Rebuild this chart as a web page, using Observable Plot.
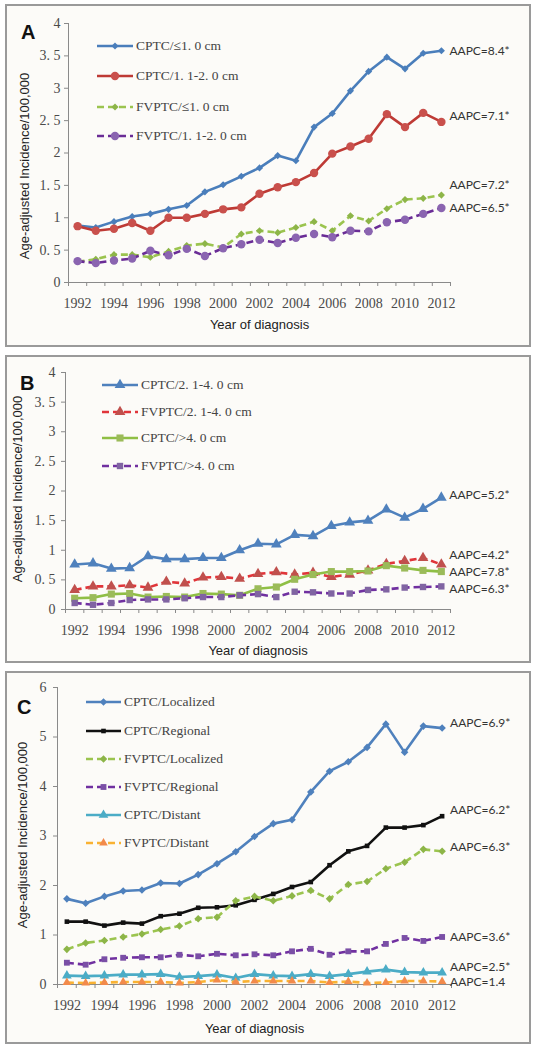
<!DOCTYPE html>
<html><head><meta charset="utf-8">
<script src="https://cdn.jsdelivr.net/npm/d3@7"></script>
<script src="https://cdn.jsdelivr.net/npm/@observablehq/plot@0.6"></script>
<style>
body{margin:0;background:#fff;}
#root{position:relative;width:537px;height:1050px;overflow:hidden;}
.frame{position:absolute;left:5px;width:526px;box-sizing:border-box;border:2px solid #9a9a9a;background:#fcfbf8;}
.chart{position:absolute;left:0;}
.chart [aria-label$="tick label"] text{font-family:"Liberation Serif",serif !important;font-size:14px !important;}
.letter{position:absolute;font:bold 20px/20px "Liberation Sans",Arial,sans-serif;color:#111;}
.ytitle{position:absolute;font:13px/16px "Liberation Sans",Arial,sans-serif;color:#222;white-space:nowrap;transform:translate(-50%,-50%) rotate(-90deg);}
.lrow{position:absolute;height:20px;display:flex;align-items:center;font:13.5px "Liberation Serif",serif;color:#444;white-space:nowrap;}
.lrow svg{display:block;margin-right:3px;}
</style></head>
<body><div id="root"></div>
<script>
// ---------- data ----------
const YEARS = [1992,1993,1994,1995,1996,1997,1998,1999,2000,2001,2002,2003,2004,2005,2006,2007,2008,2009,2010,2011,2012];
const X_LABEL_YEARS = [1992,1994,1996,1998,2000,2002,2004,2006,2008,2010,2012];
const X_TICK_BOUNDS = [1991.5,1992.5,1993.5,1994.5,1995.5,1996.5,1997.5,1998.5,1999.5,2000.5,2001.5,2002.5,2003.5,2004.5,2005.5,2006.5,2007.5,2008.5,2009.5,2010.5,2011.5,2012.5];

const AB_Y_TICKS = [0,0.5,1,1.5,2,2.5,3,3.5,4];
const AB_Y_LABELS = ["0","0. 5","1","1. 5","2","2. 5","3","3. 5","4"];
const C_Y_TICKS = [0,1,2,3,4,5,6];
const C_Y_LABELS = ["0","1","2","3","4","5","6"];

const Y_TITLE = "Age-adjusted Incidence/100,000";
const X_TITLE = "Year of diagnosis";

// Panel A
const A_NAMES = ["CPTC/≤1. 0 cm","CPTC/1. 1-2. 0 cm","FVPTC/≤1. 0 cm","FVPTC/1. 1-2. 0 cm"];
const A_CPTC_LE1    = [0.88,0.85,0.94,1.02,1.06,1.13,1.19,1.40,1.51,1.64,1.77,1.96,1.88,2.40,2.61,2.96,3.26,3.48,3.30,3.54,3.58];
const A_CPTC_11_20  = [0.87,0.80,0.83,0.92,0.80,1.00,1.00,1.06,1.13,1.16,1.37,1.47,1.55,1.69,1.99,2.10,2.22,2.60,2.40,2.62,2.48];
const A_FVPTC_LE1   = [0.32,0.36,0.43,0.43,0.39,0.48,0.57,0.60,0.54,0.75,0.80,0.77,0.85,0.94,0.80,1.03,0.95,1.14,1.28,1.30,1.35];
const A_FVPTC_11_20 = [0.33,0.30,0.34,0.37,0.49,0.42,0.52,0.41,0.53,0.59,0.66,0.61,0.69,0.75,0.70,0.80,0.79,0.93,0.97,1.06,1.15];
const A_AAPC = ["AAPC=8.4*","AAPC=7.1*","AAPC=7.2*","AAPC=6.5*"];

// Panel B
const B_NAMES = ["CPTC/2. 1-4. 0 cm","FVPTC/2. 1-4. 0 cm","CPTC/>4. 0 cm","FVPTC/>4. 0 cm"];
const B_CPTC_21_40  = [0.76,0.78,0.69,0.70,0.90,0.85,0.85,0.87,0.87,1.00,1.11,1.10,1.26,1.24,1.41,1.47,1.50,1.69,1.55,1.70,1.89];
const B_FVPTC_21_40 = [0.33,0.39,0.39,0.41,0.37,0.47,0.44,0.54,0.55,0.52,0.60,0.63,0.59,0.62,0.55,0.59,0.66,0.77,0.82,0.87,0.76];
const B_CPTC_GT40   = [0.19,0.20,0.26,0.27,0.21,0.22,0.21,0.27,0.26,0.24,0.35,0.38,0.51,0.59,0.64,0.64,0.65,0.74,0.70,0.66,0.64];
const B_FVPTC_GT40  = [0.11,0.08,0.11,0.16,0.17,0.17,0.19,0.21,0.21,0.24,0.26,0.21,0.30,0.29,0.27,0.27,0.33,0.34,0.37,0.38,0.39];
const B_AAPC = ["AAPC=5.2*","AAPC=4.2*","AAPC=7.8*","AAPC=6.3*"];

// Panel C
const C_NAMES = ["CPTC/Localized","CPTC/Regional","FVPTC/Localized","FVPTC/Regional","CPTC/Distant","FVPTC/Distant"];
const C_CPTC_LOC   = [1.73,1.64,1.78,1.89,1.91,2.05,2.04,2.22,2.44,2.68,2.99,3.25,3.33,3.89,4.31,4.50,4.79,5.26,4.69,5.22,5.18];
const C_CPTC_REG   = [1.27,1.27,1.19,1.25,1.23,1.38,1.43,1.55,1.56,1.60,1.71,1.83,1.97,2.07,2.41,2.69,2.80,3.17,3.17,3.22,3.40];
const C_FVPTC_LOC  = [0.71,0.84,0.89,0.96,1.02,1.11,1.18,1.33,1.36,1.69,1.78,1.69,1.79,1.90,1.73,2.02,2.08,2.34,2.47,2.73,2.69];
const C_FVPTC_REG  = [0.44,0.40,0.51,0.54,0.55,0.55,0.60,0.57,0.62,0.59,0.61,0.59,0.67,0.72,0.60,0.67,0.67,0.82,0.94,0.88,0.96];
const C_CPTC_DIST  = [0.18,0.17,0.18,0.20,0.20,0.21,0.15,0.17,0.20,0.13,0.21,0.18,0.17,0.21,0.17,0.21,0.26,0.30,0.25,0.24,0.24];
const C_FVPTC_DIST = [0.04,0.03,0.04,0.05,0.05,0.05,0.03,0.05,0.09,0.05,0.07,0.07,0.07,0.07,0.04,0.06,0.03,0.04,0.07,0.07,0.06];
const C_AAPC = ["AAPC=6.9*","AAPC=6.2*","AAPC=6.3*","AAPC=3.6*","AAPC=2.5*","AAPC=1.4"];

// ---------- styles ----------
const AXIS = "#8a8a8a";
const TICK_FONT = "'Liberation Serif', serif";
const TICK_COLOR = "#4a4a4a";
const SYM = {diamond: d3.symbolDiamond2, circle: d3.symbolCircle, square: d3.symbolSquare, triangle: d3.symbolTriangle};
const DASH = "7,4";

const panels = [
  {
    letter: "A", top: 4, height: 343, mL: 68, mR: 87, mT: 19, mB: 65, yMax: 4,
    yTicks: AB_Y_TICKS, yLabels: AB_Y_LABELS, yPad: 4, yTitlePos: [25, 166], xTitleDy: 46,
    letterPos: [21, 22],
    legend: {x: 97, w: 36, rows: [46, 76, 107, 136]},
    names: A_NAMES, values: [A_CPTC_LE1, A_CPTC_11_20, A_FVPTC_LE1, A_FVPTC_11_20], aapc: A_AAPC,
    styles: [
      {line: "#4a7ebb", mark: "#4a7ebb", sym: "diamond", r: 3.2, dash: null},
      {line: "#be3a35", mark: "#c9504c", sym: "circle", r: 4.2, dash: null},
      {line: "#9bc44f", mark: "#8db548", sym: "diamond", r: 3.2, dash: DASH},
      {line: "#6a2c96", mark: "#8a64b0", sym: "circle", r: 4.2, dash: DASH}
    ],
    aapcDy: [0, -6, -10, 0]
  },
  {
    letter: "B", top: 355, height: 308, mL: 65, mR: 87, mT: 17, mB: 54, yMax: 4,
    yTicks: AB_Y_TICKS, yLabels: AB_Y_LABELS, yPad: 6, yTitlePos: [18, 489], xTitleDy: 45,
    letterPos: [20, 373],
    legend: {x: 102, w: 36, rows: [385, 412, 438, 466]},
    names: B_NAMES, values: [B_CPTC_21_40, B_FVPTC_21_40, B_CPTC_GT40, B_FVPTC_GT40], aapc: B_AAPC,
    styles: [
      {line: "#4f81bd", mark: "#4f81bd", sym: "triangle", r: 4, dash: null},
      {line: "#e0353a", mark: "#c0504d", sym: "triangle", r: 4, dash: DASH},
      {line: "#8fbf45", mark: "#9bbb59", sym: "square", r: 4, dash: null},
      {line: "#7030a0", mark: "#8064a2", sym: "square", r: 3.6, dash: DASH}
    ],
    aapcDy: [-2, -9, 1, 3]
  },
  {
    letter: "C", top: 671, height: 373, mL: 57, mR: 86, mT: 16, mB: 60, yMax: 6,
    yTicks: C_Y_TICKS, yLabels: C_Y_LABELS, yPad: 7, yTitlePos: [23, 835], xTitleDy: 48,
    letterPos: [17, 697],
    legend: {x: 86, w: 35, rows: [702, 731, 759, 787, 815, 843]},
    names: C_NAMES, values: [C_CPTC_LOC, C_CPTC_REG, C_FVPTC_LOC, C_FVPTC_REG, C_CPTC_DIST, C_FVPTC_DIST], aapc: C_AAPC,
    styles: [
      {line: "#4f81bd", mark: "#4f81bd", sym: "diamond", r: 3.4, dash: null},
      {line: "#111111", mark: "#111111", sym: "square", r: 2.6, dash: null},
      {line: "#9bc44f", mark: "#8db548", sym: "diamond", r: 3.4, dash: DASH},
      {line: "#7030a0", mark: "#7a4fa6", sym: "square", r: 3.3, dash: DASH},
      {line: "#4bacc6", mark: "#4bacc6", sym: "triangle", r: 3.6, dash: null},
      {line: "#f9b233", mark: "#f28a4b", sym: "triangle", r: 3.2, dash: DASH}
    ],
    aapcDy: [-5, -6, -4, 0, -5, 1]
  }
];

const root = document.getElementById("root");

for (const p of panels) {
  const frame = document.createElement("div");
  frame.className = "frame";
  frame.style.top = p.top + "px";
  frame.style.height = p.height + "px";
  root.appendChild(frame);

  const marks = [];
  marks.push(Plot.ruleY([0], {stroke: AXIS, strokeWidth: 1}));
  marks.push(Plot.ruleX([X_TICK_BOUNDS[0]], {y1: 0, y2: p.yMax, stroke: AXIS, strokeWidth: 1}));
  marks.push(Plot.axisX({ticks: X_TICK_BOUNDS, tickSize: 4, stroke: AXIS, tickFormat: () => "", label: null}));
  marks.push(Plot.axisX({ticks: X_LABEL_YEARS, tickSize: 0, tickPadding: 16, tickFormat: d => String(d),
    fontFamily: TICK_FONT, fill: TICK_COLOR, label: null}));
  marks.push(Plot.axisY({ticks: p.yTicks, tickSize: 4, tickPadding: p.yPad, stroke: AXIS,
    tickFormat: (d) => p.yLabels[p.yTicks.indexOf(d)], fontFamily: TICK_FONT, fill: TICK_COLOR, label: null}));
  marks.push(Plot.text([X_TITLE], {frameAnchor: "bottom", dy: p.xTitleDy, text: d => d,
    fontFamily: "Liberation Sans", fontSize: 13, fill: "#222"}));

  p.values.forEach((vals, si) => {
    const st = p.styles[si];
    const rows = vals.map((v, i) => ({year: YEARS[i], value: v}));
    marks.push(Plot.line(rows, {x: "year", y: "value", stroke: st.line, strokeWidth: 2.6,
      strokeDasharray: st.dash ?? undefined, strokeLinejoin: "round", strokeLinecap: "butt"}));
    marks.push(Plot.dot(rows, {x: "year", y: "value", symbol: SYM[st.sym], r: st.r, fill: st.mark, stroke: "none"}));
  });
  p.values.forEach((vals, si) => {
    const last = vals.length - 1;
    marks.push(Plot.text([{year: YEARS[last], value: vals[last], t: p.aapc[si]}], {
      x: "year", y: "value", text: "t", textAnchor: "start", dx: 8, dy: p.aapcDy[si],
      fontFamily: "Lato", fontSize: 12, fill: "#333"}));
  });

  const svg = Plot.plot({
    width: 537, height: p.height,
    marginLeft: p.mL, marginRight: p.mR, marginTop: p.mT, marginBottom: p.mB,
    x: {type: "linear", domain: [X_TICK_BOUNDS[0], X_TICK_BOUNDS[X_TICK_BOUNDS.length - 1]], axis: null},
    y: {domain: [0, p.yMax], axis: null},
    style: {background: "transparent", overflow: "visible", fontFamily: TICK_FONT, fontSize: "14px"},
    marks
  });
  svg.classList.add("chart");
  svg.style.position = "absolute";
  svg.style.left = "0px";
  svg.style.top = p.top + "px";
  root.appendChild(svg);

  const L = document.createElement("div");
  L.className = "letter";
  L.textContent = p.letter;
  L.style.left = p.letterPos[0] + "px";
  L.style.top = p.letterPos[1] + "px";
  root.appendChild(L);

  const T = document.createElement("div");
  T.className = "ytitle";
  T.textContent = Y_TITLE;
  T.style.left = p.yTitlePos[0] + "px";
  T.style.top = p.yTitlePos[1] + "px";
  root.appendChild(T);

  p.names.forEach((name, si) => {
    const st = p.styles[si];
    const row = document.createElement("div");
    row.className = "lrow";
    row.style.left = p.legend.x + "px";
    row.style.top = (p.legend.rows[si] - 10) + "px";
    const w = p.legend.w;
    const path = d3.symbol(SYM[st.sym], Math.PI * st.r * st.r)();
    row.innerHTML =
      `<svg width="${w}" height="20" viewBox="0 0 ${w} 20">` +
      `<line x1="0" x2="${w}" y1="10" y2="10" stroke="${st.line}" stroke-width="2.6"${st.dash ? ` stroke-dasharray="${st.dash}"` : ""}/>` +
      `<path d="${path}" transform="translate(${w / 2},10)" fill="${st.mark}"/></svg>`;
    const span = document.createElement("span");
    span.textContent = name;
    row.appendChild(span);
    root.appendChild(row);
  });
}
</script></body></html>
